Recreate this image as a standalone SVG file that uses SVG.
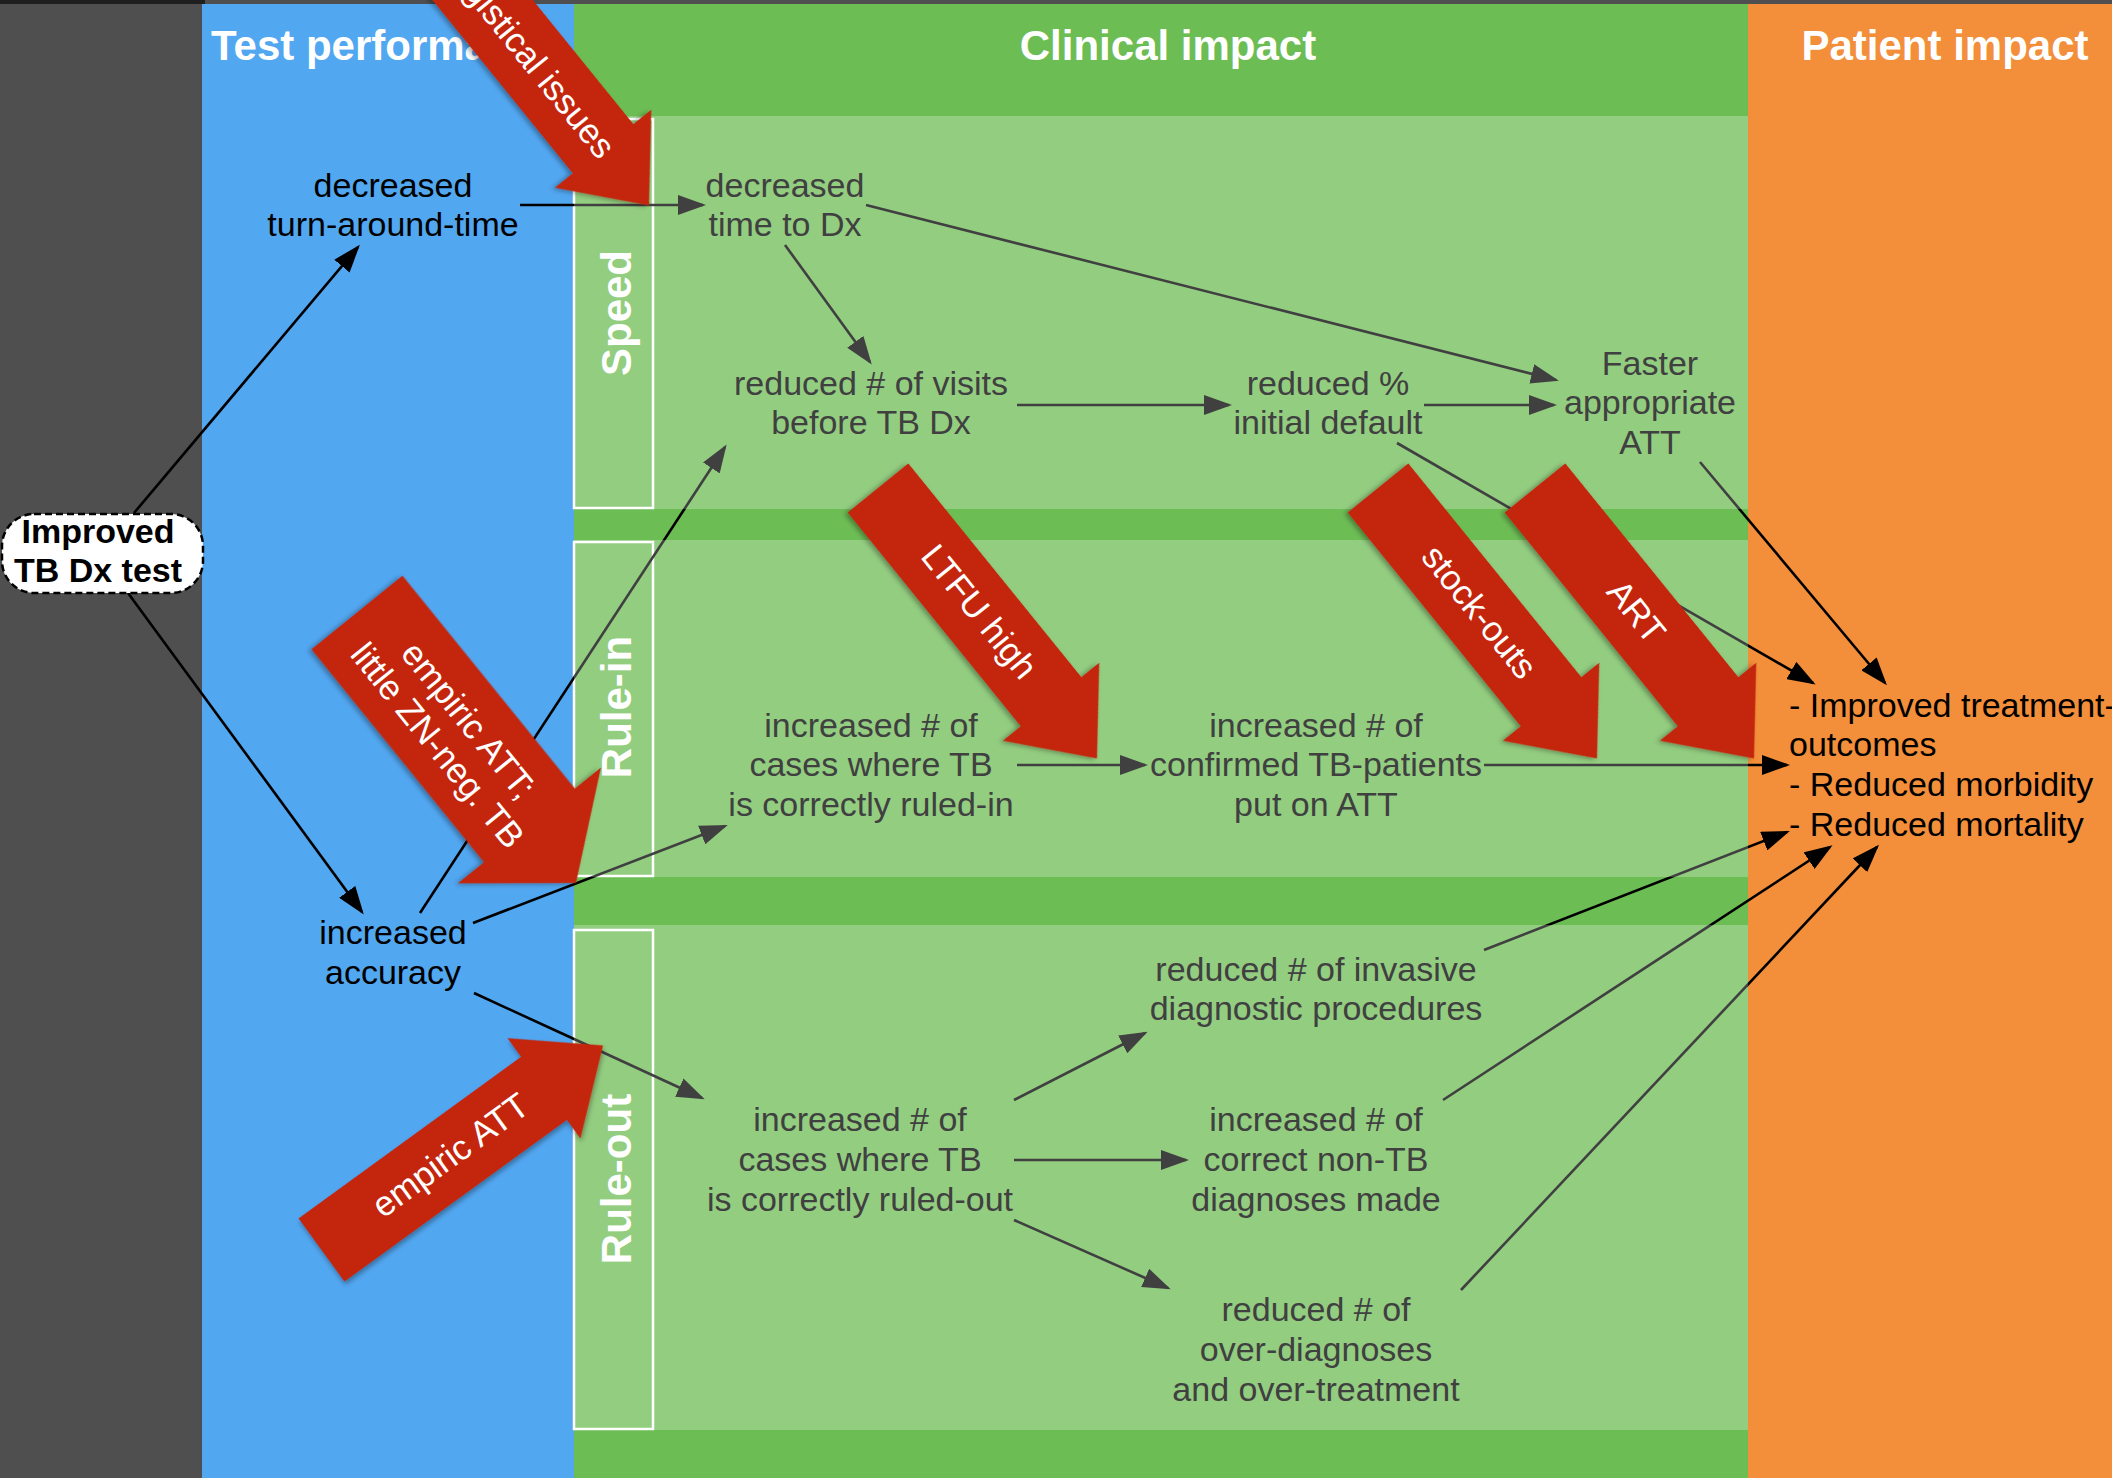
<svg xmlns="http://www.w3.org/2000/svg" xmlns:xlink="http://www.w3.org/1999/xlink" width="2112" height="1478" viewBox="0 0 2112 1478">
<style>
.hdr{font-family:"Liberation Sans",Arial,sans-serif;font-weight:bold;font-size:42px;fill:#fff}
.sec{font-family:"Liberation Sans",Arial,sans-serif;font-weight:bold;font-size:42px;fill:#fff;text-anchor:middle}
.nd{font-family:"Liberation Sans",Arial,sans-serif;font-size:34px;text-anchor:middle}
.k{fill:#000}
.g{fill:#404040}
.pi{font-family:"Liberation Sans",Arial,sans-serif;font-size:34px;fill:#000}
.box{fill:none;stroke:#fff;stroke-width:2.5}
.red{fill:#c4250a;filter:url(#shadow)}
.rl{font-family:"Liberation Sans",Arial,sans-serif;font-size:35px;fill:#fff;text-anchor:middle}
</style>
<defs>
<filter id="shadow" x="-20%" y="-20%" width="140%" height="140%">
<feDropShadow dx="-1" dy="3" stdDeviation="2.5" flood-color="#000" flood-opacity="0.35"/>
</filter>
<marker id="ah-k" markerUnits="userSpaceOnUse" markerWidth="28" markerHeight="20" refX="25" refY="10" orient="auto">
<path d="M0,0 L28,10 L0,20 Z" fill="#000"/>
</marker>
<marker id="ah-g" markerUnits="userSpaceOnUse" markerWidth="28" markerHeight="20" refX="25" refY="10" orient="auto">
<path d="M0,0 L28,10 L0,20 Z" fill="#404040"/>
</marker>
<clipPath id="clip-light">
<rect x="574" y="116" width="1174" height="393"/>
<rect x="574" y="540" width="1174" height="337"/>
<rect x="574" y="925" width="1174" height="505"/>
</clipPath>
<clipPath id="clip-dark">
<path clip-rule="evenodd" d="M0,0H2112V1478H0Z M574,116h1174v393h-1174Z M574,540h1174v337h-1174Z M574,925h1174v505h-1174Z"/>
</clipPath>
<g id="conn-paths">
<path d="M134,513 L358,247"/>
<path d="M128,593 L362,912"/>
<path d="M520,205 L703,205"/>
<path d="M785,245 L870,362"/>
<path d="M866,205 L1556,380"/>
<path d="M1017,405 L1229,405"/>
<path d="M1424,405 L1554,405"/>
<path d="M1397,443 L1813,683"/>
<path d="M1700,462 L1885,683"/>
<path d="M420,913 L725,447"/>
<path d="M473,923 L725,826"/>
<path d="M474,993 L702,1098"/>
<path d="M1017,765 L1145,765"/>
<path d="M1484,765 L1787,765"/>
<path d="M1014,1100 L1145,1033"/>
<path d="M1014,1160 L1186,1160"/>
<path d="M1014,1220 L1168,1288"/>
<path d="M1484,950 L1787,832"/>
<path d="M1443,1100 L1830,847"/>
<path d="M1461,1290 L1877,847"/>
</g>
</defs>

<g id="background">
<rect x="0" y="0" width="2112" height="1478" fill="#4f4f4f"/>
<rect x="0" y="0" width="205" height="4" fill="#1f1f1f"/>
<rect x="202" y="4" width="372" height="1474" fill="#52a7f1"/>
<rect x="574" y="4" width="1174" height="1474" fill="#6dbd55"/>
<rect x="1748" y="4" width="364" height="1474" fill="#f38e3a"/>
<rect x="574" y="116" width="1174" height="393" fill="#93cd80"/>
<rect x="574" y="540" width="1174" height="337" fill="#93cd80"/>
<rect x="574" y="925" width="1174" height="505" fill="#93cd80"/>
</g>

<g id="headers">
<text class="hdr" x="211" y="60">Test performance</text>
<text class="hdr" x="1168" y="60" text-anchor="middle">Clinical impact</text>
<text class="hdr" x="1945" y="60" text-anchor="middle">Patient impact</text>
</g>

<g id="section-speed">
<rect class="box" x="574" y="119" width="79" height="389"/>
<text class="sec" transform="translate(631,313) rotate(-90)">Speed</text>
</g>
<g id="section-rule-in">
<rect class="box" x="574" y="542" width="79" height="334"/>
<text class="sec" transform="translate(631,707) rotate(-90)">Rule-in</text>
</g>
<g id="section-rule-out">
<rect class="box" x="574" y="930" width="79" height="499"/>
<text class="sec" transform="translate(631,1179) rotate(-90)">Rule-out</text>
</g>

<g id="connectors" fill="none" stroke-width="2.6">
<use xlink:href="#conn-paths" href="#conn-paths" stroke="#000" marker-end="url(#ah-k)" clip-path="url(#clip-dark)"/>
<use xlink:href="#conn-paths" href="#conn-paths" stroke="#404040" marker-end="url(#ah-g)" clip-path="url(#clip-light)"/>
</g>

<g id="node-improved-test">
<rect x="2" y="514" width="201" height="79" rx="32" ry="32" fill="#fff" stroke="#000" stroke-width="2.5" stroke-dasharray="7 4"/>
<text class="nd k" x="98" y="543" font-weight="bold">Improved</text>
<text class="nd k" x="98" y="582" font-weight="bold">TB Dx test</text>
</g>
<g id="node-turnaround">
<text class="nd k" x="393"><tspan x="393" y="197">decreased</tspan><tspan x="393" y="236">turn-around-time</tspan></text>
</g>
<g id="node-accuracy">
<text class="nd k" x="393"><tspan x="393" y="944">increased</tspan><tspan x="393" y="984">accuracy</tspan></text>
</g>
<g id="node-time-to-dx">
<text class="nd g"><tspan x="785" y="197">decreased</tspan><tspan x="785" y="236">time to Dx</tspan></text>
</g>
<g id="node-visits">
<text class="nd g"><tspan x="871" y="395">reduced # of visits</tspan><tspan x="871" y="434">before TB Dx</tspan></text>
</g>
<g id="node-default">
<text class="nd g"><tspan x="1328" y="395">reduced %</tspan><tspan x="1328" y="434">initial default</tspan></text>
</g>
<g id="node-faster-att">
<text class="nd g"><tspan x="1650" y="375">Faster</tspan><tspan x="1650" y="414">appropriate</tspan><tspan x="1650" y="454">ATT</tspan></text>
</g>
<g id="node-ruled-in">
<text class="nd g"><tspan x="871" y="737">increased # of</tspan><tspan x="871" y="776">cases where TB</tspan><tspan x="871" y="816">is correctly ruled-in</tspan></text>
</g>
<g id="node-confirmed">
<text class="nd g"><tspan x="1316" y="737">increased # of</tspan><tspan x="1316" y="776">confirmed TB-patients</tspan><tspan x="1316" y="816">put on ATT</tspan></text>
</g>
<g id="node-ruled-out">
<text class="nd g"><tspan x="860" y="1131">increased # of</tspan><tspan x="860" y="1171">cases where TB</tspan><tspan x="860" y="1211">is correctly ruled-out</tspan></text>
</g>
<g id="node-invasive">
<text class="nd g"><tspan x="1316" y="981">reduced # of invasive</tspan><tspan x="1316" y="1020">diagnostic procedures</tspan></text>
</g>
<g id="node-non-tb">
<text class="nd g"><tspan x="1316" y="1131">increased # of</tspan><tspan x="1316" y="1171">correct non-TB</tspan><tspan x="1316" y="1211">diagnoses made</tspan></text>
</g>
<g id="node-over-diagnoses">
<text class="nd g"><tspan x="1316" y="1321">reduced # of</tspan><tspan x="1316" y="1361">over-diagnoses</tspan><tspan x="1316" y="1401">and over-treatment</tspan></text>
</g>
<g id="node-patient-impact">
<text class="pi"><tspan x="1789" y="717">- Improved treatment-</tspan><tspan x="1789" y="756">outcomes</tspan><tspan x="1789" y="796">- Reduced morbidity</tspan><tspan x="1789" y="836">- Reduced mortality</tspan></text>
</g>

<g id="red-logistical" transform="translate(430,-65) rotate(51)">
<polygon class="red" points="0,-39 275,-39 275,-62 348,0 275,62 275,39 0,39"/>
<text class="rl" x="160" y="11">logistical issues</text>
</g>
<g id="red-ltfu" transform="translate(878,488) rotate(51)">
<polygon class="red" points="0,-39 275,-39 275,-62 348,0 275,62 275,39 0,39"/>
<text class="rl" x="160" y="11">LTFU high</text>
</g>
<g id="red-stockouts" transform="translate(1378,488) rotate(51)">
<polygon class="red" points="0,-39 275,-39 275,-62 348,0 275,62 275,39 0,39"/>
<text class="rl" x="160" y="11">stock-outs</text>
</g>
<g id="red-art" transform="translate(1535,488) rotate(51)">
<polygon class="red" points="0,-39 275,-39 275,-62 348,0 275,62 275,39 0,39"/>
<text class="rl" x="160" y="11">ART</text>
</g>
<g id="red-empiric-zn" transform="translate(357,612.5) rotate(51)">
<polygon class="red" points="0,-58.5 274,-58.5 274,-92 348,0 274,92 274,58.5 0,58.5"/>
<text class="rl" x="154" y="-7">empiric ATT;</text>
<text class="rl" x="154" y="33">little ZN-neg. TB</text>
</g>
<g id="red-empiric" transform="translate(321.5,1250) rotate(-36)">
<polygon class="red" points="0,-39 275,-39 275,-62 348,0 275,62 275,39 0,39"/>
<text class="rl" x="160" y="11">empiric ATT</text>
</g>
</svg>
